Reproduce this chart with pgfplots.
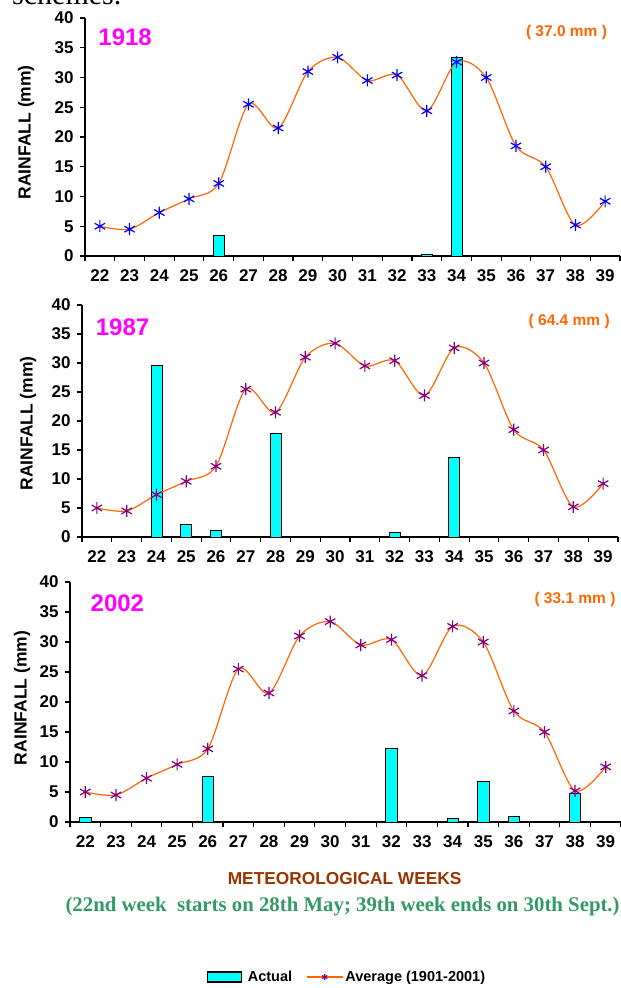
\documentclass[border=0pt]{standalone}
\usepackage{pgfplots}
\pgfplotsset{compat=1.18}
\usepackage{pgfplotstable}
\usepackage{fontspec}
\setmainfont{Liberation Sans}
\newfontfamily\seriffont{Liberation Serif}
\definecolor{cyanbar}{RGB}{0,255,255}
\definecolor{avgline}{RGB}{255,102,0}
\definecolor{bluemark}{RGB}{0,0,255}
\definecolor{purplemark}{RGB}{128,0,128}
\definecolor{yearcol}{RGB}{255,0,255}
\definecolor{titlecol}{RGB}{153,51,0}
\definecolor{notecol}{RGB}{51,153,102}

\pgfplotstableread{
week avg
22 5.0
23 4.5
24 7.3
25 9.6
26 12.2
27 25.5
28 21.5
29 31.0
30 33.4
31 29.5
32 30.4
33 24.4
34 32.6
35 30.0
36 18.5
37 15.0
38 5.2
39 9.2
}\avgdata

\pgfplotstableread{
week actual
26 3.4
33 0.3
34 33.3
}\actA

\pgfplotstableread{
week actual
24 29.6
25 2.1
26 1.1
28 17.8
32 0.75
34 13.7
}\actB

\pgfplotstableread{
week actual
22 0.7
26 7.6
32 12.2
34 0.55
35 6.7
36 0.9
38 4.7
}\actC

\pgfplotsset{
  rainstyle/.style={
    scale only axis,
    xmin=21.5, xmax=39.5, ymin=0, ymax=40,
    axis x line=bottom, axis y line=left,
    axis line style={-, line width=1.6pt},
    xtick={21.5,22.5,23.5,24.5,25.5,26.5,27.5,28.5,29.5,30.5,31.5,32.5,33.5,34.5,35.5,36.5,37.5,38.5,39.5},
    x tick label as interval,
    xticklabels={22,23,24,25,26,27,28,29,30,31,32,33,34,35,36,37,38,39},
    ytick={0,5,10,15,20,25,30,35,40},
    tick align=outside, major tick length=5pt,
    tick style={black, line width=1.2pt},
    /pgf/number format/assume math mode=true,
    ticklabel style={font=\fontsize{17}{17}\selectfont\bfseries},
    xticklabel style={yshift=-5pt},
    yticklabel style={xshift=-3pt},
    ylabel={RAINFALL (mm)},
    clip=false,
  },
  barstyle/.style={ybar, bar width=0.37, fill=cyanbar, draw=black, line width=0.8pt},
  avgstyle/.style={smooth, avgline, line width=1.2pt, mark=asterisk, mark size=6pt,
    mark options={#1, line width=1.2pt}},
  ylab/.style 2 args={ylabel style={at={(axis description cs:#1,#2)}, anchor=center,
    font=\fontsize{17.5}{17.5}\selectfont\bfseries}},
}

\begin{document}
\begin{tikzpicture}[x=1pt,y=1pt]
\useasboundingbox (0,0) rectangle (621,988);
\node[anchor=base west, font=\seriffont\fontsize{30}{30}\selectfont, inner sep=0pt] at (12,983) {schemes.};

% Panel 1
\begin{axis}[rainstyle, ylab={-0.110}{0.52}, at={(85pt,732pt)}, anchor=south west, width=535pt, height=238pt]
\addplot[barstyle] table[x=week, y=actual] {\actA};
\addplot[avgstyle=bluemark] table[x=week, y=avg] {\avgdata};
\node[font=\fontsize{24}{24}\selectfont\bfseries, text=yearcol] at (rel axis cs:0.075,0.92) {1918};
\node[font=\fontsize{15.5}{15.5}\selectfont\bfseries, text=avgline] at (rel axis cs:0.90,0.941) {( 37.0 mm )};
\end{axis}

% Panel 2
\begin{axis}[rainstyle, ylab={-0.1007}{0.49}, at={(82pt,451pt)}, anchor=south west, width=536pt, height=232pt]
\addplot[barstyle] table[x=week, y=actual] {\actB};
\addplot[avgstyle=purplemark] table[x=week, y=avg] {\avgdata};
\node[font=\fontsize{24}{24}\selectfont\bfseries, text=yearcol] at (rel axis cs:0.0756,0.905) {1987};
\node[font=\fontsize{15.5}{15.5}\selectfont\bfseries, text=avgline] at (rel axis cs:0.909,0.931) {( 64.4 mm )};
\end{axis}

% Panel 3
\begin{axis}[rainstyle, ylab={-0.0871}{0.517}, at={(70pt,166pt)}, anchor=south west, width=551pt, height=240pt,
  legend style={at={(0.503,-0.646)}, anchor=center, draw=none, fill=none,
    font=\fontsize{14.5}{14.5}\selectfont\bfseries},
  legend columns=2,
  legend cell align=left,
  /tikz/every even column/.append style={column sep=12pt},
]
\addplot[barstyle, legend image code/.code={\draw[fill=cyanbar,draw=black,line width=1.2pt] (0pt,-5pt) rectangle (34pt,5pt); \path[draw=none,fill=none] (0pt,0pt) rectangle (38pt,0.1pt);}] table[x=week, y=actual] {\actC};
\addlegendentry{Actual}
\addplot[avgstyle=purplemark, legend image code/.code={\draw[avgline,line width=1.3pt] (0pt,0pt)--(36pt,0pt); \draw[purplemark,line width=0.8pt,mark=asterisk,mark size=3pt] plot coordinates {(18pt,0pt)};}] table[x=week, y=avg] {\avgdata};
\addlegendentry{Average (1901-2001)}
\node[font=\fontsize{24}{24}\selectfont\bfseries, text=yearcol] at (rel axis cs:0.086,0.9125) {2002};
\node[font=\fontsize{15.5}{15.5}\selectfont\bfseries, text=avgline] at (rel axis cs:0.9165,0.929) {( 33.1 mm )};
\end{axis}

\node[font=\fontsize{17.3}{17.3}\selectfont\bfseries, text=titlecol] at (344.6,109) {METEOROLOGICAL WEEKS};
\node[font=\seriffont\fontsize{20.8}{20.8}\selectfont\bfseries, text=notecol] at (342.6,81) {(22nd week\ \ starts on 28th May; 39th week ends on 30th Sept.)};
\end{tikzpicture}
\end{document}
